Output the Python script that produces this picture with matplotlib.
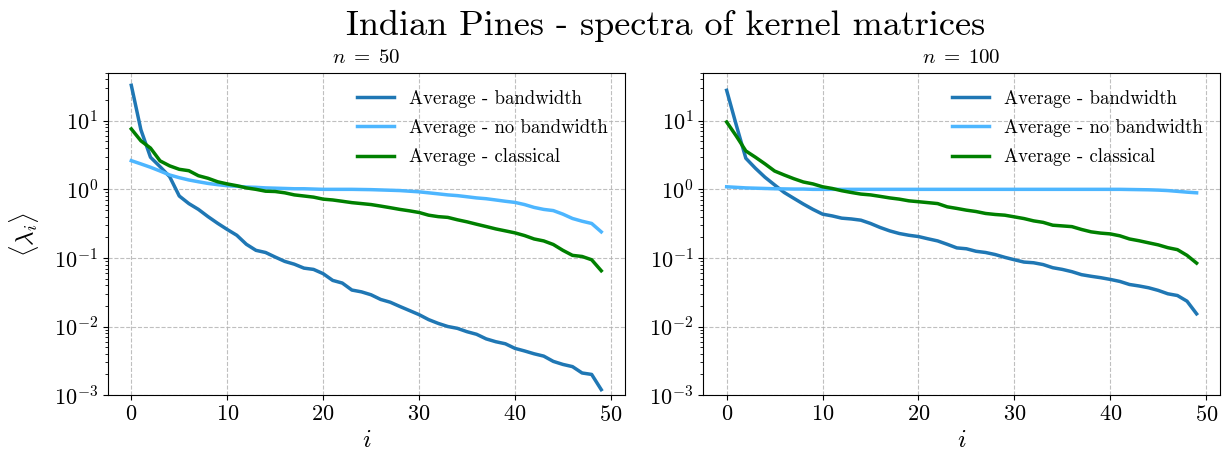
import matplotlib
matplotlib.use("Agg")
import matplotlib.pyplot as plt
import numpy as np

plt.rcParams['font.family'] = 'serif'
plt.rcParams['font.serif'] = ['cmr10']
plt.rcParams['mathtext.fontset'] = 'cm'
plt.rcParams['axes.formatter.use_mathtext'] = True
plt.rcParams['axes.unicode_minus'] = False

# eigenvalue index
idx = np.arange(50)

# n = 50
bw_50 = [32.9, 7.4, 2.94, 2.14, 1.53, 0.80, 0.62, 0.51, 0.40, 0.32,
         0.26, 0.214, 0.158, 0.129, 0.12, 0.103, 0.089, 0.081, 0.071, 0.068,
         0.059, 0.047, 0.043, 0.034, 0.032, 0.029, 0.0248, 0.0226, 0.0196, 0.0171,
         0.0149, 0.0126, 0.0111, 0.0100, 0.0094, 0.0084, 0.0077, 0.0066, 0.0060, 0.0056,
         0.0048, 0.0044, 0.0040, 0.0037, 0.0031, 0.0028, 0.0026, 0.0021, 0.0020, 0.0012]
nobw_50 = [2.62, 2.35, 2.1, 1.85, 1.62, 1.48, 1.37, 1.29, 1.22, 1.17,
           1.13, 1.11, 1.08, 1.07, 1.05, 1.04, 1.03, 1.02, 1.02, 1.01,
           1.0, 1.0, 1.0, 1.0, 0.995, 0.99, 0.98, 0.97, 0.96, 0.94,
           0.92, 0.89, 0.86, 0.83, 0.81, 0.78, 0.75, 0.73, 0.70, 0.67,
           0.645, 0.60, 0.545, 0.51, 0.49, 0.435, 0.376, 0.343, 0.318, 0.24]
cl_50 = [7.6, 5.1, 4.0, 2.6, 2.2, 1.96, 1.87, 1.58, 1.45, 1.29,
         1.20, 1.13, 1.05, 1.0, 0.94, 0.93, 0.89, 0.83, 0.80, 0.77,
         0.72, 0.70, 0.67, 0.64, 0.62, 0.60, 0.57, 0.54, 0.51, 0.486,
         0.46, 0.42, 0.40, 0.39, 0.36, 0.336, 0.31, 0.287, 0.265, 0.248,
         0.232, 0.212, 0.189, 0.177, 0.157, 0.129, 0.109, 0.105, 0.094, 0.065]

# n = 100
bw_100 = [27.8, 8.7, 2.84, 2.03, 1.50, 1.16, 0.90, 0.74, 0.61, 0.51,
          0.435, 0.41, 0.38, 0.37, 0.355, 0.318, 0.278, 0.248, 0.227, 0.214,
          0.205, 0.19, 0.177, 0.158, 0.14, 0.136, 0.125, 0.12, 0.112, 0.102,
          0.094, 0.087, 0.085, 0.080, 0.072, 0.068, 0.063, 0.057, 0.054, 0.0515,
          0.0486, 0.0454, 0.041, 0.039, 0.0367, 0.0336, 0.030, 0.0283, 0.0234, 0.0153]
nobw_100 = [1.09, 1.07, 1.05, 1.04, 1.03, 1.02, 1.015, 1.01, 1.01, 1.0,
            1.0, 1.0, 1.0, 1.0, 1.0, 1.0, 1.0, 1.0, 1.0, 1.0,
            1.0, 1.0, 1.0, 1.0, 1.0, 1.0, 1.0, 1.0, 1.0, 1.0,
            1.0, 1.0, 1.0, 1.0, 1.0, 1.0, 1.0, 1.0, 1.0, 1.0,
            1.0, 1.0, 0.995, 0.99, 0.985, 0.975, 0.96, 0.935, 0.91, 0.89]
cl_100 = [9.6, 6.0, 3.63, 2.94, 2.35, 1.85, 1.62, 1.43, 1.28, 1.2,
          1.09, 1.03, 0.955, 0.9, 0.853, 0.83, 0.79, 0.75, 0.72, 0.68,
          0.66, 0.64, 0.62, 0.556, 0.527, 0.497, 0.475, 0.445, 0.43, 0.42,
          0.397, 0.375, 0.347, 0.33, 0.30, 0.293, 0.286, 0.26, 0.24, 0.23,
          0.224, 0.21, 0.189, 0.178, 0.166, 0.155, 0.141, 0.132, 0.109, 0.084]

labels = ['Average - bandwidth', 'Average - no bandwidth', 'Average - classical']
colors = ['#1f77b4', '#4db6ff', 'green']
panels = [(r'$n\;=\;50$', [bw_50, nobw_50, cl_50]),
          (r'$n\;=\;100$', [bw_100, nobw_100, cl_100])]

fig = plt.figure(figsize=(12.25, 4.61), dpi=100)
lefts = [0.088, 0.574]
for k, (title, series) in enumerate(panels):
    ax = fig.add_axes([lefts[k], 0.143, 0.422, 0.699])
    for vals, lab, col in zip(series, labels, colors):
        ax.plot(idx, vals, color=col, lw=2.5, label=lab)
    ax.set_yscale('log')
    ax.set_ylim(1e-3, 50)
    ax.set_xticks([0, 10, 20, 30, 40, 50])
    ax.grid(True, ls='--', color='#b0b0b0', alpha=0.8)
    ax.tick_params(labelsize=16)
    ax.set_title(title, fontsize=15, pad=7)
    ax.set_xlabel('$i$', fontsize=18)
    if k == 0:
        ax.set_ylabel(r'$\langle \lambda_i \rangle$', fontsize=18, labelpad=9)
    ax.legend(loc='upper right', frameon=False, fontsize=13.5, labelspacing=0.6)

fig.text(0.543, 0.924, 'Indian Pines - spectra of kernel matrices',
         fontsize=26, ha='center', va='baseline')
fig.savefig('out.png', dpi=100)
